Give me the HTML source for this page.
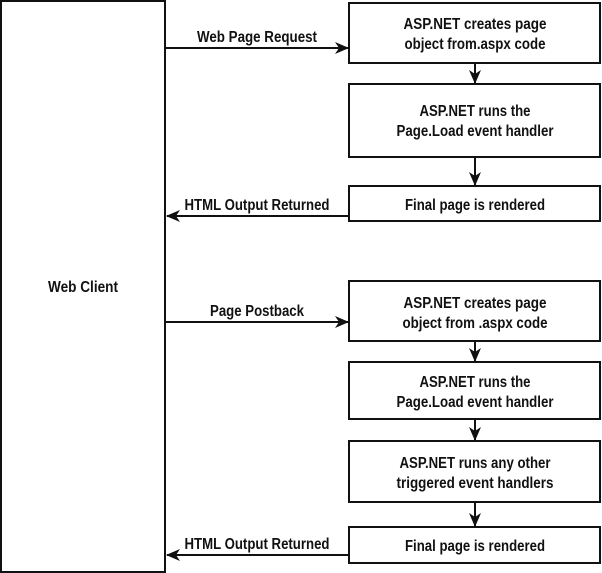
<!DOCTYPE html>
<html><head><meta charset="utf-8"><style>
html,body{margin:0;padding:0;background:#fff;}
svg{display:block;}
text{font-family:"Liberation Sans",Arial,sans-serif;font-size:16px;fill:#111;}
</style></head><body>
<svg width="602" height="573" viewBox="0 0 602 573" xmlns="http://www.w3.org/2000/svg">
<defs>
<marker id="a" viewBox="0 0 14 12" refX="13" refY="6" markerWidth="14" markerHeight="12" markerUnits="userSpaceOnUse" orient="auto">
<path d="M0,0 L14,6 L0,12 L4,6 Z" fill="#111"/>
</marker>
</defs>
<g fill="none" stroke="#111" stroke-width="2">
<rect x="1" y="1" width="164" height="571"/>
<rect x="349" y="3" width="251" height="60"/>
<rect x="349" y="84" width="251" height="73"/>
<rect x="349" y="186" width="251" height="35"/>
<rect x="349" y="281" width="251" height="60"/>
<rect x="349" y="362" width="251" height="57"/>
<rect x="349" y="441" width="251" height="61"/>
<rect x="349" y="527" width="251" height="36"/>
<line x1="165" y1="48" x2="348" y2="48" marker-end="url(#a)"/>
<line x1="349" y1="216" x2="167" y2="216" marker-end="url(#a)"/>
<line x1="165" y1="322" x2="348" y2="322" marker-end="url(#a)"/>
<line x1="349" y1="555" x2="167" y2="555" marker-end="url(#a)"/>
<line x1="475" y1="63" x2="475" y2="83" marker-end="url(#a)"/>
<line x1="475" y1="157" x2="475" y2="185" marker-end="url(#a)"/>
<line x1="475" y1="341" x2="475" y2="361" marker-end="url(#a)"/>
<line x1="475" y1="419" x2="475" y2="440" marker-end="url(#a)"/>
<line x1="475" y1="502" x2="475" y2="526" marker-end="url(#a)"/>
</g>
<g text-anchor="middle" font-weight="bold">
<text x="83" y="292" textLength="70" lengthAdjust="spacingAndGlyphs">Web Client</text>
<text x="257" y="42" textLength="120" lengthAdjust="spacingAndGlyphs">Web Page Request</text>
<text x="257" y="210" textLength="145" lengthAdjust="spacingAndGlyphs">HTML Output Returned</text>
<text x="257" y="316" textLength="94" lengthAdjust="spacingAndGlyphs">Page Postback</text>
<text x="257" y="549" textLength="145" lengthAdjust="spacingAndGlyphs">HTML Output Returned</text>

<text x="475" y="29" textLength="143" lengthAdjust="spacingAndGlyphs">ASP.NET creates page</text>
<text x="475" y="49" textLength="141" lengthAdjust="spacingAndGlyphs">object from.aspx code</text>
<text x="475" y="116" textLength="111" lengthAdjust="spacingAndGlyphs">ASP.NET runs the</text>
<text x="475" y="136" textLength="157" lengthAdjust="spacingAndGlyphs">Page.Load event handler</text>
<text x="475" y="210" textLength="140" lengthAdjust="spacingAndGlyphs">Final page is rendered</text>

<text x="475" y="308" textLength="143" lengthAdjust="spacingAndGlyphs">ASP.NET creates page</text>
<text x="475" y="328" textLength="145" lengthAdjust="spacingAndGlyphs">object from .aspx code</text>
<text x="475" y="387" textLength="111" lengthAdjust="spacingAndGlyphs">ASP.NET runs the</text>
<text x="475" y="407" textLength="157" lengthAdjust="spacingAndGlyphs">Page.Load event handler</text>
<text x="475" y="468" textLength="151" lengthAdjust="spacingAndGlyphs">ASP.NET runs any other</text>
<text x="475" y="488" textLength="157" lengthAdjust="spacingAndGlyphs">triggered event handlers</text>
<text x="475" y="551" textLength="140" lengthAdjust="spacingAndGlyphs">Final page is rendered</text>
</g>
</svg>
</body></html>
